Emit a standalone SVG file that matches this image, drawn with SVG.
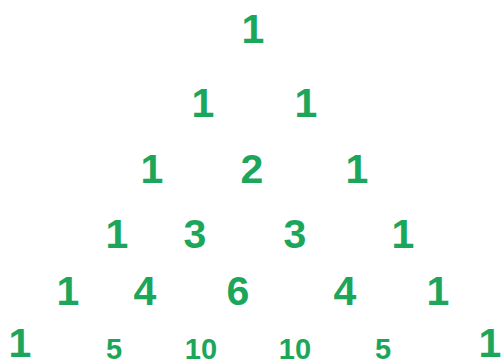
<svg xmlns="http://www.w3.org/2000/svg" width="503" height="359" viewBox="0 0 503 359">
<style>
text{font-family:"Liberation Sans",Arial,sans-serif;font-weight:bold;fill:#1ba65a;text-anchor:middle}
.b{font-size:41px}
.s{font-size:29px}
</style>
<rect width="503" height="359" fill="#fff"/>
<g id="row1"><text class="b" x="253" y="43">1</text></g>
<g id="row2"><text class="b" x="203" y="117">1</text><text class="b" x="306" y="117">1</text></g>
<g id="row3"><text class="b" x="152" y="183">1</text><text class="b" x="252" y="183">2</text><text class="b" x="357" y="183">1</text></g>
<g id="row4"><text class="b" x="117" y="248">1</text><text class="b" x="195" y="248">3</text><text class="b" x="295" y="248">3</text><text class="b" x="403" y="248">1</text></g>
<g id="row5"><text class="b" x="68" y="305">1</text><text class="b" x="145" y="305">4</text><text class="b" x="238" y="305">6</text><text class="b" x="345" y="305">4</text><text class="b" x="438" y="305">1</text></g>
<g id="row6"><text class="b" x="20" y="357">1</text><text class="s" x="114" y="359">5</text><text class="s" x="201" y="359">10</text><text class="s" x="295" y="359">10</text><text class="s" x="383" y="359">5</text><text class="b" x="490" y="357">1</text></g>
</svg>
